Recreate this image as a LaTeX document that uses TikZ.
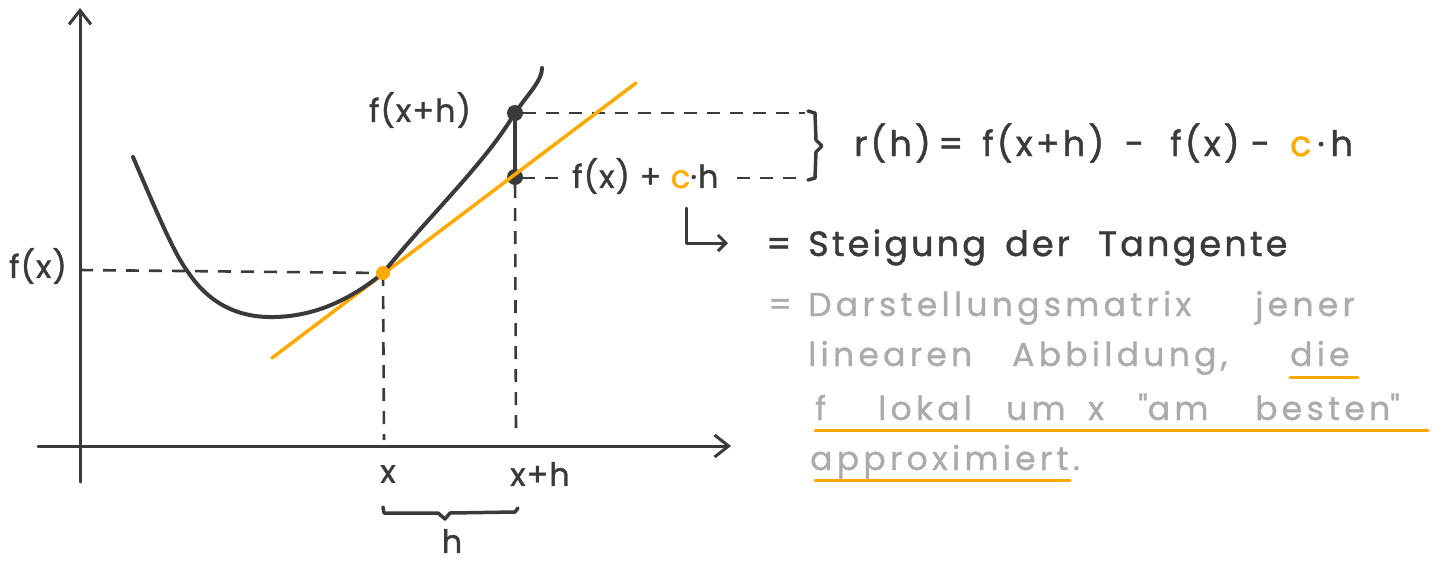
\documentclass[tikz,border=0pt]{standalone}
\usepackage{fontspec}
\setmainfont{Poppins}
\newfontfamily\smallfont{Poppins}[LetterSpace=3,FakeBold=1.2]
\newfontfamily\handfont{Poppins}[LetterSpace=9,FakeBold=1.3]
\newfontfamily\greyfont{Poppins}[LetterSpace=13,FakeBold=1]
\usetikzlibrary{arrows.meta}
\definecolor{ink}{HTML}{3A3A3A}
\definecolor{lightink}{HTML}{ABABAB}
\definecolor{orng}{HTML}{FFAA00}
\tikzset{
  axis/.style={ink, line width=3pt, line cap=round, -{Straight Barb[length=14pt,width=22pt,line width=3pt]}},
  curve/.style={ink, line width=4pt, line cap=round},
  tangent/.style={orng, line width=3.5pt, line cap=round},
  guide/.style={ink, line width=2.6pt, dash pattern=on 13pt off 10pt},
  lbl/.style={text=ink, font=\smallfont\fontsize{32}{36}\selectfont, inner sep=0pt},
  big/.style={text=ink, font=\handfont\fontsize{35}{40}\selectfont, inner sep=0pt, anchor=base west},
  grey/.style={text=lightink, font=\greyfont\fontsize{33}{36}\selectfont, inner sep=0pt, anchor=base west},
  uline/.style={orng, line width=3pt, line cap=round},
  dot/.style={circle, fill=ink, inner sep=0pt, minimum size=16pt},
}
\begin{document}
\begin{tikzpicture}[x=1pt,y=-1pt]
\useasboundingbox (0,0) rectangle (1444,566);
% axes
\coordinate (yb) at (80,482);
\coordinate (yt) at (80,8);
\coordinate (xl) at (38,446);
\coordinate (xr) at (731,446);
\draw[axis] (yb) -- (yt);
\draw[axis] (xl) -- (xr);
% key points
\coordinate (P) at (383,273);
\node[dot] (Q) at (515,113) {};
\node[dot] (R) at (515,177) {};
% guides
\coordinate (fxl) at (80,270);
\coordinate (xb) at (384,440);
\coordinate (xhb) at (516,432);
\coordinate (qr) at (805,113);
\draw[guide] (fxl) -- (P);
\draw[guide] (P) -- (xb);
\draw[guide] (R) -- (xhb);
\draw[guide] (Q) -- (qr);
% tangent
\coordinate (t1) at (272,358);
\coordinate (t2) at (636,83);
\draw[tangent] (t1) -- (t2);
% curve
\draw[curve] (133,157) .. controls (160,220) and (175,255) .. (188,272)
  .. controls (210,305) and (240,318) .. (275,317)
  .. controls (315,316) and (350,300) .. (P)
  .. controls (430,215) and (480,168) .. (Q)
  .. controls (530,92) and (542,80) .. (542,68);
\draw[ink, line width=4pt, line cap=round] (Q) -- (R);
\node[circle, fill=orng, inner sep=0pt, minimum size=14pt] (Pd) at (P) {};
% labels
\node[lbl] (lfx) at (38,266) {f(x)};
\node[lbl] (lfxh) at (420,110) {f(x+h)};
\node[lbl] (lx) at (388,474) {x};
\node[lbl] (lxh) at (540,474) {x+h};
\node[lbl] (lh) at (452,541) {h};
\node[lbl, anchor=west] (lfxc) at (572,176) {f(x) + \textcolor{orng}{c}·h};
\coordinate (rd1) at (522,178);
\coordinate (rd2) at (562,178);
\draw[guide] (rd1) -- (rd2);
\coordinate (rd3) at (737,178);
\coordinate (rd4) at (805,178);
\draw[guide] (rd3) -- (rd4);
% brace right
\draw[curve, line width=3.5pt, line join=round] (808,111) -- (815,113) -- (816,140) -- (822,146) -- (816,152) -- (815,178) -- (808,180);
% brace under
\draw[curve, line width=3.5pt, line join=round] (383,507) -- (384,513) -- (438,513) -- (445,519) -- (450,513) -- (515,512) -- (518,508);
% formula
\node[big] (r1) at (854,156) {r(h)};
\node[big] (r2) at (938,156) {=};
\node[big] (r3) at (982,156) {f(x+h)};
\node[big] (r4) at (1124,156) {−};
\node[big] (r5) at (1170,156) {f(x)};
\node[big] (r6) at (1250,156) {−};
\node[big] (r7) at (1290,156) {\textcolor{orng}{c}\,·\,h};
% hook arrow
\coordinate (a1) at (686,208);
\coordinate (a2) at (728,243);
\draw[ink, line width=3pt, line cap=round, line join=round, -{Straight Barb[length=8pt,width=16pt,line width=3pt]}] (a1) |- (a2);
\node[big] (s1) at (766,256) {=};
\node[big] (s2) at (808,256) {Steigung};
\node[big] (s3) at (1005,256) {der};
\node[big] (s4) at (1098,256) {Tangente};
% grey text
\node[grey] (g11) at (768,316) {=};
\node[grey] (g12) at (808,316) {Darstellungsmatrix};
\node[grey] (g13) at (1255,316) {jener};
\node[grey] (g21) at (808,366) {linearen};
\node[grey] (g22) at (1012,366) {Abbildung,};
\node[grey] (g23) at (1290,366) {die};
\node[grey] (g31) at (815,420) {f};
\node[grey] (g32) at (878,420) {lokal};
\node[grey] (g33) at (1006,420) {um};
\node[grey] (g34) at (1088,420) {x};
\node[grey] (g35) at (1138,420) {\textquotedbl am};
\node[grey] (g36) at (1255,420) {besten\textquotedbl};
\node[grey] (g41) at (810,470) {approximiert.};
\draw[uline] (1290,377) -- (1358,377);
\draw[uline] (815,430) -- (1428,430);
\draw[uline] (815,480) -- (1070,480);
\end{tikzpicture}
\end{document}
